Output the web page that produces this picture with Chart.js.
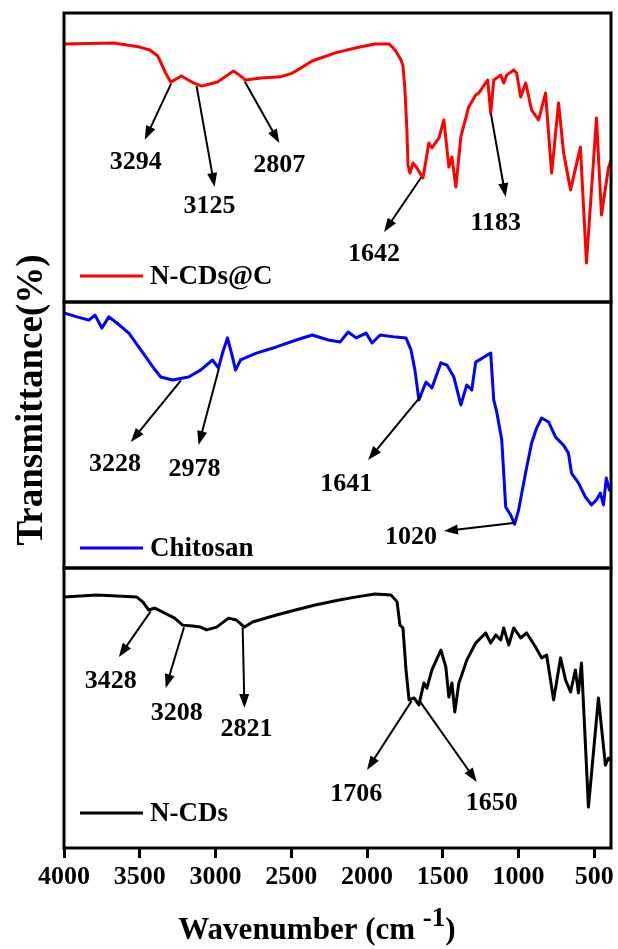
<!DOCTYPE html>
<html>
<head>
<meta charset="utf-8">
<title>FTIR spectra</title>
<script src="https://cdn.jsdelivr.net/npm/chart.js@4.4.1/dist/chart.umd.min.js"></script>
<style>
	body { margin: 0; background: #fff; }
	#chart { display: block; }
</style>
</head>
<body>
<canvas id="chart" width="618" height="949"></canvas>
<script>
// N-CDs@C : wavenumber (cm-1) / relative transmittance
var ncdcWave = [4000, 3671, 3500, 3434, 3381, 3329, 3296, 3224, 3145, 3092, 2987, 2921, 2881, 2842, 2802, 2697, 2572, 2493, 2362, 2210, 2079, 1947, 1855, 1815, 1776, 1763, 1750, 1737, 1730, 1717, 1697, 1671, 1631, 1592, 1572, 1526, 1493, 1460, 1440, 1414, 1381, 1329, 1283, 1263, 1217, 1204, 1184, 1164, 1118, 1098, 1079, 1032, 1013, 986, 953, 914, 868, 822, 782, 736, 703, 657, 592, 552, 486, 453, 407, 390];
var ncdcT = [89.3, 89.6, 88.2, 87.2, 85.1, 79.2, 76.1, 78.2, 75.8, 74.7, 76.1, 78.5, 79.9, 78.5, 76.8, 77.5, 77.9, 79.2, 83.4, 86.2, 87.9, 89.3, 89.3, 87.2, 83.7, 81.7, 73.4, 59.5, 47.4, 44.6, 48.1, 46.4, 42.9, 55.0, 53.3, 56.7, 63.0, 46.7, 50.2, 39.8, 57.1, 67.5, 71.6, 72.3, 75.8, 76.8, 65.4, 76.8, 78.5, 75.8, 78.5, 80.3, 79.2, 70.9, 75.8, 66.4, 63.0, 72.3, 44.6, 68.9, 51.6, 38.8, 53.6, 13.5, 63.7, 30.1, 46.4, 49.1];

// Chitosan
var chitWave = [4000, 3914, 3836, 3796, 3750, 3704, 3651, 3572, 3493, 3414, 3362, 3283, 3178, 3099, 3020, 2980, 2954, 2921, 2888, 2868, 2835, 2730, 2598, 2467, 2362, 2256, 2177, 2125, 2072, 2006, 1967, 1914, 1809, 1743, 1710, 1684, 1658, 1611, 1572, 1513, 1473, 1427, 1381, 1342, 1309, 1283, 1184, 1164, 1144, 1111, 1085, 1052, 1026, 1000, 954, 914, 881, 848, 802, 756, 704, 671, 651, 605, 559, 519, 486, 460, 440, 421, 401, 390];
var chitT = [95.9, 94.4, 93.2, 95.1, 90.2, 94.4, 92.1, 88.3, 82.0, 75.6, 71.8, 70.7, 71.8, 74.4, 78.2, 75.2, 80.8, 86.5, 79.3, 74.4, 78.2, 80.8, 83.1, 85.7, 87.6, 85.7, 85.0, 88.7, 86.5, 88.3, 84.6, 87.6, 86.8, 86.5, 82.0, 74.4, 63.2, 69.9, 67.7, 77.1, 76.3, 71.8, 61.3, 68.8, 66.9, 77.4, 80.8, 63.2, 58.6, 48.1, 22.9, 19.9, 16.5, 21.8, 35.7, 47.0, 52.6, 56.4, 54.9, 49.2, 46.2, 43.2, 35.7, 32.0, 26.7, 23.7, 25.6, 28.2, 23.7, 33.8, 29.3, 31.2];

// N-CDs
var ncdWave = [4000, 3783, 3520, 3480, 3441, 3401, 3335, 3270, 3217, 3151, 3099, 3059, 2993, 2914, 2862, 2809, 2756, 2598, 2473, 2342, 2184, 2079, 1947, 1842, 1802, 1783, 1763, 1743, 1723, 1690, 1658, 1625, 1605, 1572, 1513, 1480, 1460, 1440, 1421, 1394, 1375, 1342, 1283, 1217, 1184, 1151, 1118, 1098, 1065, 1032, 986, 947, 888, 848, 815, 769, 723, 690, 657, 625, 605, 585, 539, 473, 427, 407, 390];
var ncdT = [89.6, 90.4, 89.6, 87.9, 85.0, 85.7, 83.9, 82.1, 79.6, 79.3, 78.9, 77.9, 78.9, 82.1, 81.4, 78.9, 80.7, 83.2, 85.0, 86.8, 88.6, 89.6, 90.7, 90.4, 87.9, 79.6, 78.6, 63.6, 52.9, 53.6, 51.1, 58.9, 57.1, 63.6, 70.7, 64.6, 53.9, 58.9, 48.6, 58.9, 61.8, 67.1, 73.2, 76.8, 73.2, 76.1, 74.3, 78.6, 72.5, 78.6, 75.0, 76.8, 71.8, 67.9, 68.9, 52.9, 67.9, 60.0, 55.7, 63.6, 55.4, 66.1, 14.6, 53.6, 29.6, 32.1, 31.4];

var xTicks = [4000, 3500, 3000, 2500, 2000, 1500, 1000, 500];
var sampleNames = ["N-CDs@C", "Chitosan", "N-CDs"];
var sampleColors = ["#ff0000", "#0000ff", "#000000"];

var serif = "'Liberation Serif', 'Times New Roman', serif";

// one stacked y axis per sample, top to bottom
var panels = [
	{ axis: "yTop", weight: 289, waves: ncdcWave, vals: ncdcT, legendY: 9 },
	{ axis: "yMid", weight: 266, waves: chitWave, vals: chitT, legendY: 7.5 },
	{ axis: "yBot", weight: 280, waves: ncdWave, vals: ncdT, legendY: 12.5 },
];

// peak labels: arrow head and text centre in (cm-1, T) of the panel
var peaks = [
	{ panel: 0, text: "3294", head: [3467, 56.1], label: [3526, 48.8] },
	{ panel: 0, text: "3125", head: [3006, 39.8], label: [3039, 33.6] },
	{ panel: 0, text: "2807", head: [2579, 55.0], label: [2579, 47.8] },
	{ panel: 0, text: "1642", head: [1888, 24.2], label: [1954, 17.0] },
	{ panel: 0, text: "1183", head: [1085, 36.3], label: [1151, 27.7] },
	{ panel: 1, text: "3228", head: [3559, 47.4], label: [3664, 39.5] },
	{ panel: 1, text: "2978", head: [3112, 46.2], label: [3138, 37.6] },
	{ panel: 1, text: "1641", head: [1993, 40.6], label: [2138, 32.0] },
	{ panel: 1, text: "1020", head: [1493, 13.9], label: [1710, 12.0] },
	{ panel: 2, text: "3428", head: [3638, 68.2], label: [3691, 60.0] },
	{ panel: 2, text: "3208", head: [3329, 57.1], label: [3256, 48.6] },
	{ panel: 2, text: "2821", head: [2809, 50.0], label: [2796, 42.9] },
	{ panel: 2, text: "1706", head: [2000, 27.9], label: [2072, 19.6] },
	{ panel: 2, text: "1650", head: [1276, 23.6], label: [1177, 16.4] },
];

function valueAt(waves, vals, w) {
	for (let i = 0; i < waves.length - 1; i++) {
		if (w <= waves[i] && w >= waves[i + 1]) {
			let f = (waves[i] - w) / (waves[i] - waves[i + 1]);
			return vals[i] + f * (vals[i + 1] - vals[i]);
		}
	}
	return vals[vals.length - 1];
}

function arrow(ctx, x1, y1, x2, y2) {
	let a = Math.atan2(y2 - y1, x2 - x1);
	let c = Math.cos(a), s = Math.sin(a);
	ctx.beginPath();
	ctx.moveTo(x1, y1);
	ctx.lineTo(x2 - 10 * c, y2 - 10 * s);
	ctx.stroke();
	ctx.beginPath();
	ctx.moveTo(x2, y2);
	ctx.lineTo(x2 - 14 * c + 5 * s, y2 - 14 * s - 5 * c);
	ctx.lineTo(x2 - 14 * c - 5 * s, y2 - 14 * s + 5 * c);
	ctx.closePath();
	ctx.fill();
}

var decorations = {
	id: "decorations",
	afterDatasetsDraw: function (chart) {
		let ctx = chart.ctx;
		let x = chart.scales.x;
		ctx.save();

		// panel frames
		ctx.strokeStyle = "#000";
		ctx.lineWidth = 3;
		panels.forEach(function (p) {
			let y = chart.scales[p.axis];
			ctx.strokeRect(x.left, y.top, x.right - x.left, y.bottom - y.top);
		});

		// legends inside each panel
		panels.forEach(function (p, i) {
			let y = chart.scales[p.axis];
			let ly = y.getPixelForValue(p.legendY);
			ctx.strokeStyle = sampleColors[i];
			ctx.lineWidth = 3;
			ctx.beginPath();
			ctx.moveTo(x.left + 16, ly);
			ctx.lineTo(x.left + 79, ly);
			ctx.stroke();
			ctx.fillStyle = "#000";
			ctx.font = "bold 27px " + serif;
			ctx.textAlign = "left";
			ctx.textBaseline = "middle";
			ctx.fillText(sampleNames[i], x.left + 86, ly + 1);
		});

		// peak arrows and labels
		ctx.strokeStyle = "#000";
		ctx.fillStyle = "#000";
		ctx.lineWidth = 2;
		ctx.font = "bold 26px " + serif;
		ctx.textAlign = "center";
		ctx.textBaseline = "middle";
		peaks.forEach(function (pk) {
			let p = panels[pk.panel];
			let y = chart.scales[p.axis];
			let w = Number(pk.text);
			let tx = x.getPixelForValue(w);
			let ty = y.getPixelForValue(valueAt(p.waves, p.vals, w)) + 2;
			arrow(ctx, tx, ty, x.getPixelForValue(pk.head[0]), y.getPixelForValue(pk.head[1]));
			ctx.fillText(pk.text, x.getPixelForValue(pk.label[0]), y.getPixelForValue(pk.label[1]) + 1);
		});

		// axis titles
		ctx.font = "bold 31px " + serif;
		ctx.textBaseline = "alphabetic";
		ctx.textAlign = "left";
		let main = "Wavenumber (cm ";
		let sup = "-1";
		let mw = ctx.measureText(main).width;
		ctx.font = "bold 27px " + serif;
		let sw = ctx.measureText(sup).width;
		ctx.font = "bold 31px " + serif;
		let cw = ctx.measureText(")").width;
		let sx = 317 - (mw + sw + cw) / 2;
		ctx.fillText(main, sx, 939);
		ctx.font = "bold 27px " + serif;
		ctx.fillText(sup, sx + mw, 926);
		ctx.font = "bold 31px " + serif;
		ctx.fillText(")", sx + mw + sw, 939);

		ctx.translate(32, 400);
		ctx.rotate(-Math.PI / 2);
		ctx.font = "bold 37px " + serif;
		ctx.textAlign = "center";
		ctx.textBaseline = "middle";
		ctx.fillText("Transmittance(%)", 0, 0);
		ctx.restore();
	},
};

var scales = {
	x: {
		type: "linear",
		reverse: true,
		min: 390,
		max: 4000,
		afterBuildTicks: function (s) {
			s.ticks = xTicks.map(function (v) { return { value: v }; });
		},
		afterFit: function (s) {
			s.height = 101;
		},
		grid: { display: true, drawOnChartArea: false, drawTicks: true, tickLength: 10, lineWidth: 3, color: "#000" },
		border: { display: false },
		ticks: {
			color: "#000",
			padding: 4,
			maxRotation: 0,
			autoSkip: false,
			font: { family: serif, size: 26, weight: "bold" },
			callback: function (v) { return String(v); },
		},
	},
};
// stacked left axes are laid out from the last one defined, so add them bottom first
panels.slice().reverse().forEach(function (p) {
	scales[p.axis] = {
		type: "linear",
		position: "left",
		stack: "ftir",
		stackWeight: p.weight,
		min: 0,
		max: 100,
		grid: { display: false, drawTicks: false },
		border: { display: false },
		ticks: { display: false },
		afterFit: function (s) {
			s.width = 0;
		},
	};
});

var datasets = panels.map(function (p, i) {
	return {
		label: sampleNames[i],
		yAxisID: p.axis,
		data: p.waves.map(function (w, j) { return { x: w, y: p.vals[j] }; }),
		borderColor: sampleColors[i],
		borderWidth: 3,
		borderJoinStyle: "round",
		pointRadius: 0,
		tension: 0,
		fill: false,
	};
});

var grafico = new Chart(document.getElementById("chart"), {
	type: "line",
	data: { datasets: datasets },
	options: {
		responsive: false,
		animation: false,
		devicePixelRatio: 1,
		layout: { padding: { left: 64, right: 5, top: 13, bottom: 0 } },
		plugins: { legend: { display: false }, tooltip: { enabled: false } },
		scales: scales,
	},
	plugins: [decorations],
});
</script>
</body>
</html>
